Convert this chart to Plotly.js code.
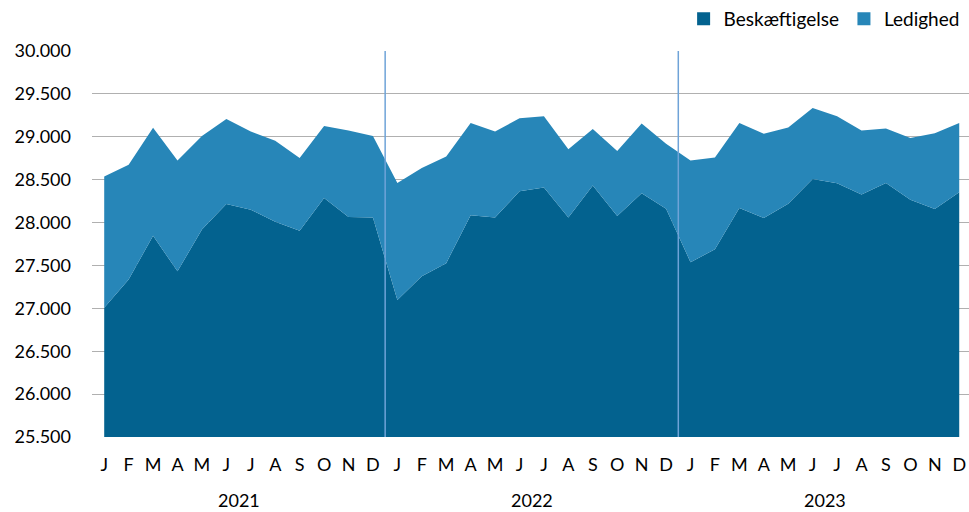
<!DOCTYPE html>
<html>
<head>
<meta charset="utf-8">
<script src="https://cdn.plot.ly/plotly-3.0.1.min.js"></script>
<style>html,body{margin:0;padding:0;background:#fff;}#chart{width:969px;height:512px;}</style>
</head>
<body>
<div id="chart"></div>
<script>
const months = ["J","F","M","A","M","J","J","A","S","O","N","D"];
const years = ["2021","2022","2023"];
const beskaeftigelse = [
  27008, 27335, 27846, 27431, 27920, 28215, 28150, 28008, 27904, 28285, 28065, 28058,
  27096, 27373, 27527, 28085, 28058, 28365, 28408, 28058, 28431, 28077, 28342, 28162,
  27538, 27688, 28169, 28054, 28219, 28508, 28458, 28327, 28462, 28265, 28158, 28354
];
const ledighed = [
  1530, 1338, 1258, 1292, 1090, 993, 912, 946, 850, 842, 1008, 950,
  1366, 1262, 1242, 1077, 1004, 850, 830, 796, 661, 758, 812, 758,
  1185, 1070, 993, 981, 889, 827, 780, 746, 634, 720, 884, 808
];
const yTicks = [25500, 26000, 26500, 27000, 27500, 28000, 28500, 29000, 29500, 30000];

const darkBlue = "#03628f";
const lightBlue = "#2786b8";

const idx = beskaeftigelse.map((_, i) => i);
const tickText = [];
years.forEach(() => months.forEach(m => tickText.push(m)));

const traces = [
  {x: idx, y: beskaeftigelse, type: "scatter", mode: "lines", stackgroup: "one",
   fill: "tozeroy", fillcolor: darkBlue, line: {width: 0, color: darkBlue},
   name: "Beskæftigelse", showlegend: false, hoverinfo: "y"},
  {x: idx, y: ledighed, type: "scatter", mode: "lines", stackgroup: "one",
   fill: "tonexty", fillcolor: lightBlue, line: {width: 0, color: lightBlue},
   name: "Ledighed", showlegend: false, hoverinfo: "y"},
  {x: [null], y: [null], type: "scatter", mode: "markers", name: "Beskæftigelse",
   marker: {symbol: "square", size: 13, color: darkBlue}},
  {x: [null], y: [null], type: "scatter", mode: "markers", name: "Ledighed",
   marker: {symbol: "square", size: 13, color: lightBlue}}
];

const font = "Lato, 'Open Sans', sans-serif";
const annotations = years.map((yr, k) => ({
  x: k * 12 + 5.5, xref: "x", y: -0.163, yref: "paper", yanchor: "middle",
  text: yr, showarrow: false, font: {family: font, size: 18, color: "#000"}
}));
const shapes = [1, 2].map(k => ({
  type: "line", xref: "x", yref: "y", x0: k * 12 - 0.5, x1: k * 12 - 0.5,
  y0: 25500, y1: 30000, line: {color: "#6fa3d8", width: 1.5}, layer: "above"
}));

const layout = {
  width: 969, height: 512,
  margin: {l: 92, r: 0, t: 47, b: 75},
  paper_bgcolor: "#fff", plot_bgcolor: "#fff",
  separators: ",.",
  font: {family: font, size: 18, color: "#000"},
  showlegend: true,
  legend: {orientation: "h", x: 0.995, xanchor: "right", y: 1.035, yanchor: "bottom",
    font: {family: font, size: 19, color: "#000"}, itemwidth: 30, bgcolor: "rgba(0,0,0,0)",
    traceorder: "normal"},
  xaxis: {range: [-0.5, 35.4], tickvals: idx, ticktext: tickText, showgrid: false,
    zeroline: false, showline: false, ticks: "", ticklabelstandoff: 15,
    tickfont: {family: font, size: 18, color: "#000"}, fixedrange: true},
  yaxis: {range: [25500, 30000], tickvals: yTicks, tickformat: ",d", showgrid: true,
    gridcolor: "#b0b0b0", gridwidth: 1, zeroline: false, showline: false, ticks: "",
    ticklabelstandoff: 20, tickfont: {family: font, size: 18, color: "#000"}, fixedrange: true},
  annotations: annotations,
  shapes: shapes
};

Plotly.newPlot("chart", traces, layout, {displayModeBar: false, staticPlot: true});
</script>
</body>
</html>
